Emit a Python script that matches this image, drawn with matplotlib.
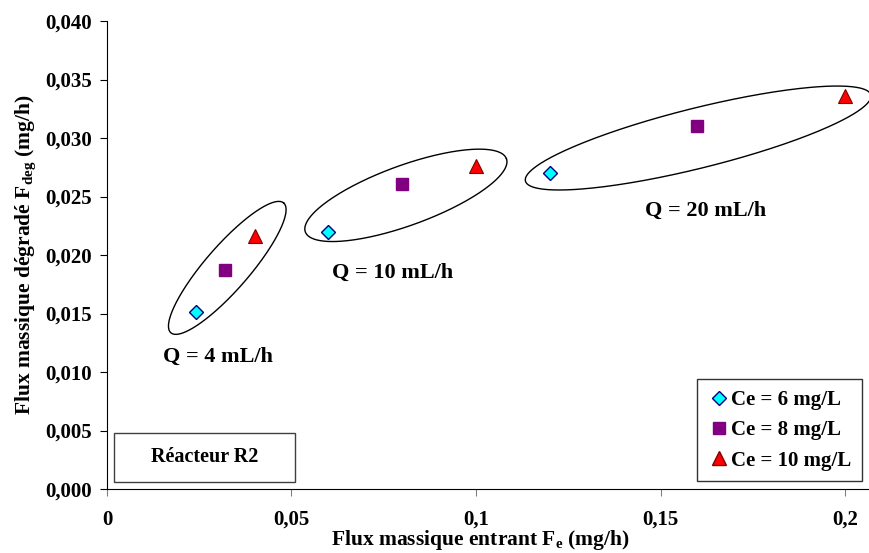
import numpy as np
import matplotlib.pyplot as plt
from matplotlib.lines import Line2D
from matplotlib.patches import Rectangle

plt.rcParams['font.family'] = ['Liberation Serif', 'DejaVu Serif']
plt.rcParams['font.weight'] = 'bold'
plt.rcParams['mathtext.fontset'] = 'custom'
plt.rcParams['mathtext.rm'] = 'Liberation Serif:bold'
plt.rcParams['mathtext.it'] = 'Liberation Serif:bold'
plt.rcParams['mathtext.bf'] = 'Liberation Serif:bold'

# flux entrant (mg/h) and flux degrade (mg/h) per inlet concentration
fe_6 = [0.024, 0.06, 0.12]
fdeg_6 = [0.0151, 0.0220, 0.0270]
fe_8 = [0.032, 0.08, 0.16]
fdeg_8 = [0.0187, 0.0261, 0.0310]
fe_10 = [0.04, 0.10, 0.20]
fdeg_10 = [0.0216, 0.0276, 0.0336]

x_ticks = [0, 0.05, 0.1, 0.15, 0.2]
x_labels = ['0', '0,05', '0,1', '0,15', '0,2']
y_ticks = [0, 0.005, 0.01, 0.015, 0.02, 0.025, 0.03, 0.035, 0.04]
y_labels = ['0,000', '0,005', '0,010', '0,015', '0,020', '0,025', '0,030', '0,035', '0,040']

fig = plt.figure(figsize=(8.69, 5.53), dpi=100)
ax = fig.add_axes([0.1231, 0.1157, 0.8769, 0.8463])

ax.plot(fe_6, fdeg_6, linestyle='none', marker='D', ms=7.5, mfc='#00FFFF', mec='#000080', mew=1)
ax.plot(fe_8, fdeg_8, linestyle='none', marker='s', ms=9, mfc='#800080', mec='#800080', mew=1)
ax.plot(fe_10, fdeg_10, linestyle='none', marker='^', ms=10, mfc='#FF0000', mec='#800000', mew=0.8)

ax.set_xlim(0, 0.2065)
ax.set_ylim(0, 0.04)
ax.set_xticks(x_ticks)
ax.set_xticklabels(x_labels, fontsize=15, fontweight='bold')
ax.set_yticks(y_ticks)
ax.set_yticklabels(y_labels, fontsize=15, fontweight='bold')
ax.tick_params(axis='x', direction='out', length=5, pad=10, color='#808080')
ax.tick_params(axis='y', direction='out', length=5, pad=6)
for s in ['top', 'right']:
    ax.spines[s].set_visible(False)

ax.set_xlabel('Flux massique entrant F$_\\mathregular{e}$ (mg/h)', fontsize=15.5, fontweight='bold')
ax.xaxis.set_label_coords(0.49, -0.084)
ax.set_ylabel('Flux massique dégradé F$_\\mathregular{deg}$ (mg/h)', fontsize=15.5, fontweight='bold')
ax.yaxis.set_label_coords(-0.09, 0.5)

# ellipses grouping each flow rate, defined in pixel units around a data centre
fig.canvas.draw()
p0 = ax.transData.transform((0, 0))
p1 = ax.transData.transform((1, 1))
sx, sy = p1[0] - p0[0], p1[1] - p0[1]


def ellipse(cx, cy, a, b, ang):
    t = np.linspace(0, 2 * np.pi, 300)
    th = np.radians(ang)
    x = cx + (a * np.cos(th) * np.cos(t) - b * np.sin(th) * np.sin(t)) / sx
    y = cy + (a * np.sin(th) * np.cos(t) + b * np.cos(th) * np.sin(t)) / sy
    ax.plot(x, y, color='black', lw=1, clip_on=False)


ellipse(0.0326, 0.0189, 86, 22, 49)
ellipse(0.0810, 0.0251, 107, 30, 20)
ellipse(0.1602, 0.0300, 178, 30, 14)

ax.text(0.030, 0.0113, 'Q = 4 mL/h', fontsize=16, fontweight='bold', ha='center', va='center')
ax.text(0.0775, 0.0185, 'Q = 10 mL/h', fontsize=16, fontweight='bold', ha='center', va='center')
ax.text(0.1623, 0.0238, 'Q = 20 mL/h', fontsize=16, fontweight='bold', ha='center', va='center')

ax.add_patch(Rectangle((0.0092, 0.015), 0.2375, 0.1047, transform=ax.transAxes,
                       fc='white', ec='#404040', lw=1, zorder=3))
ax.text(0.1286, 0.0684, 'Réacteur R2', fontsize=14.5, fontweight='bold', ha='center', va='center',
        transform=ax.transAxes, zorder=4)

handles = [
    Line2D([], [], linestyle='none', marker='D', ms=7.5, mfc='#00FFFF', mec='#000080'),
    Line2D([], [], linestyle='none', marker='s', ms=9, mfc='#800080', mec='#800080'),
    Line2D([], [], linestyle='none', marker='^', ms=10, mfc='#FF0000', mec='#800000'),
]
leg = ax.legend(handles, ['Ce = 6 mg/L', 'Ce = 8 mg/L', 'Ce = 10 mg/L'],
                loc='lower right', bbox_to_anchor=(0.991, 0.017), fontsize=15,
                frameon=True, fancybox=False, edgecolor='black', handletextpad=0.05,
                handlelength=1.1, labelspacing=0.5, borderpad=0.5, borderaxespad=0)
leg.get_frame().set_linewidth(1)

fig.savefig('out.png', dpi=100)
